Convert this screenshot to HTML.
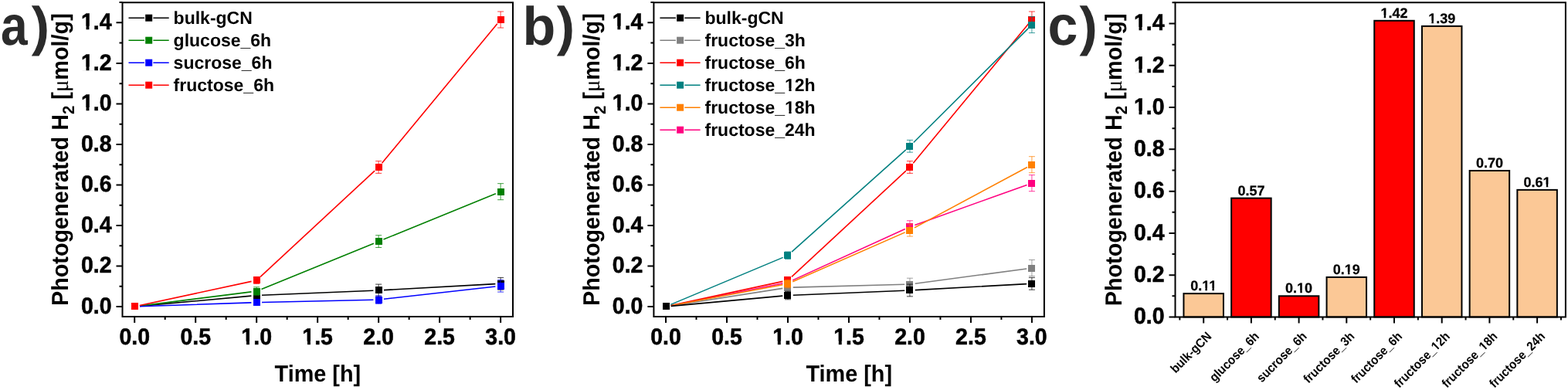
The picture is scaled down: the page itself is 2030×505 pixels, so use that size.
<!DOCTYPE html><html><head><meta charset="utf-8"><title>Figure</title><style>
html,body{margin:0;padding:0;background:#fff;}body{width:2030px;height:505px;overflow:hidden;}
svg{display:block;}
text{font-family:"Liberation Sans", Arial, Helvetica, sans-serif;font-weight:bold;fill:#000;text-rendering:geometricPrecision;}
.tl{font-size:28.5px;stroke:#000;stroke-width:0.55px;}.tt{font-size:28.8px;}.lg{font-size:23.0px;}
.sub{font-size:20.4px;}
.mu{font-family:"Liberation Serif","DejaVu Serif",serif;font-weight:normal;}
.pl{font-size:70px;fill:#2b2b2b;}
.bl{font-size:18px;stroke:#000;stroke-width:0.25px;}.cl{font-size:15.1px;}
</style></head><body>
<svg width="2030" height="505" viewBox="0 0 2030 505">
<rect width="2030" height="505" fill="#fff"/>
<g id="pa">
<path d="M180.97 396.38L325.4 383.16M338.96 382.26L483.35 376.25M496.93 375.59L641.32 367.66" stroke="#000000" stroke-width="1.6" fill="none"/>
<rect x="170" y="392" width="9" height="9" fill="#000000"/>
<path d="M332.17 377.28V387.8M328.17 377.28h8M328.17 387.8h8" stroke="#000000" stroke-width="1.0" stroke-opacity="0.75" fill="none"/>
<rect x="328" y="378" width="9" height="9" fill="#000000"/>
<path d="M490.14 368.08V383.85M486.14 368.08h8M486.14 383.85h8" stroke="#000000" stroke-width="1.0" stroke-opacity="0.75" fill="none"/>
<rect x="486" y="371" width="9" height="9" fill="#000000"/>
<path d="M648.11 359.4V375.18M644.11 359.4h8M644.11 375.18h8" stroke="#000000" stroke-width="1.0" stroke-opacity="0.75" fill="none"/>
<rect x="644" y="363" width="9" height="9" fill="#000000"/>
<path d="M180.95 396.15L325.42 377.87M338.47 374.45L483.84 315.17M496.44 310.03L641.81 250.75" stroke="#008000" stroke-width="1.6" fill="none"/>
<rect x="170" y="392" width="9" height="9" fill="#008000"/>
<path d="M332.17 371.76V382.28M328.17 371.76h8M328.17 382.28h8" stroke="#008000" stroke-width="1.0" stroke-opacity="0.75" fill="none"/>
<rect x="328" y="373" width="9" height="9" fill="#008000"/>
<path d="M490.14 304.71V320.49M486.14 304.71h8M486.14 320.49h8" stroke="#008000" stroke-width="1.0" stroke-opacity="0.75" fill="none"/>
<rect x="486" y="308" width="9" height="9" fill="#008000"/>
<path d="M648.11 237.66V258.7M644.11 237.66h8M644.11 258.7h8" stroke="#008000" stroke-width="1.0" stroke-opacity="0.75" fill="none"/>
<rect x="644" y="244" width="9" height="9" fill="#008000"/>
<path d="M181 396.77L325.37 391.84M338.97 391.46L483.34 388.21M496.9 387.3L641.35 370.95" stroke="#0000FF" stroke-width="1.6" fill="none"/>
<rect x="170" y="392" width="9" height="9" fill="#0000FF"/>
<path d="M332.17 388.98V394.24M328.17 388.98h8M328.17 394.24h8" stroke="#0000FF" stroke-width="1.0" stroke-opacity="0.75" fill="none"/>
<rect x="328" y="387" width="9" height="9" fill="#0000FF"/>
<path d="M490.14 382.8V393.32M486.14 382.8h8M486.14 393.32h8" stroke="#0000FF" stroke-width="1.0" stroke-opacity="0.75" fill="none"/>
<rect x="486" y="384" width="9" height="9" fill="#0000FF"/>
<path d="M648.11 362.29V378.07M644.11 362.29h8M644.11 378.07h8" stroke="#0000FF" stroke-width="1.0" stroke-opacity="0.75" fill="none"/>
<rect x="644" y="366" width="9" height="9" fill="#0000FF"/>
<path d="M180.85 395.57L325.52 364.38M337.16 358.33L485.15 221.12M494.47 211.26L643.78 30.72" stroke="#FF0000" stroke-width="1.6" fill="none"/>
<rect x="170" y="392" width="9" height="9" fill="#FF0000"/>
<path d="M332.17 358.48V367.42M328.17 358.48h8M328.17 367.42h8" stroke="#FF0000" stroke-width="1.0" stroke-opacity="0.75" fill="none"/>
<rect x="328" y="358" width="9" height="9" fill="#FF0000"/>
<path d="M490.14 208.61V224.39M486.14 208.61h8M486.14 224.39h8" stroke="#FF0000" stroke-width="1.0" stroke-opacity="0.75" fill="none"/>
<rect x="486" y="212" width="9" height="9" fill="#FF0000"/>
<path d="M648.11 14.96V36M644.11 14.96h8M644.11 36h8" stroke="#FF0000" stroke-width="1.0" stroke-opacity="0.75" fill="none"/>
<rect x="644" y="21" width="9" height="9" fill="#FF0000"/>
<path d="M158.5 3.3H664V410H158.5Z" fill="none" stroke="#000" stroke-width="2.0" stroke-linejoin="miter"/>
<path d="M150.5 397H158.5M150.5 344.48H158.5M150.5 291.96H158.5M150.5 239.44H158.5M150.5 186.92H158.5M150.5 134.4H158.5M150.5 81.88H158.5M150.5 29.36H158.5M154.5 370.74H158.5M154.5 318.22H158.5M154.5 265.7H158.5M154.5 213.18H158.5M154.5 160.66H158.5M154.5 108.14H158.5M154.5 55.62H158.5M154.5 3.1H158.5" stroke="#000" stroke-width="2.0" fill="none"/>
<text transform="translate(144.5 405.8) scale(1 1.045)" text-anchor="end" class="tl">0.0</text>
<text transform="translate(144.5 353.28) scale(1 1.045)" text-anchor="end" class="tl">0.2</text>
<text transform="translate(144.5 300.76) scale(1 1.045)" text-anchor="end" class="tl">0.4</text>
<text transform="translate(144.5 248.24) scale(1 1.045)" text-anchor="end" class="tl">0.6</text>
<text transform="translate(144.5 195.72) scale(1 1.045)" text-anchor="end" class="tl">0.8</text>
<text transform="translate(144.5 143.2) scale(1 1.045)" text-anchor="end" class="tl">1.0</text>
<path transform="translate(144.5 143.2) scale(1 1.045)" d="M-39.03 -4.11H-32.97V1H-39.03ZM-29.06 -4.11H-23.37V1H-29.06Z" fill="#fff"/>
<text transform="translate(144.5 90.68) scale(1 1.045)" text-anchor="end" class="tl">1.2</text>
<path transform="translate(144.5 90.68) scale(1 1.045)" d="M-39.03 -4.11H-32.97V1H-39.03ZM-29.06 -4.11H-23.37V1H-29.06Z" fill="#fff"/>
<text transform="translate(144.5 38.16) scale(1 1.045)" text-anchor="end" class="tl">1.4</text>
<path transform="translate(144.5 38.16) scale(1 1.045)" d="M-39.03 -4.11H-32.97V1H-39.03ZM-29.06 -4.11H-23.37V1H-29.06Z" fill="#fff"/>
<path d="M174.2 410V418M253.19 410V418M332.17 410V418M411.15 410V418M490.14 410V418M569.12 410V418M648.11 410V418M213.69 410V414M292.68 410V414M371.66 410V414M450.65 410V414M529.63 410V414M608.62 410V414" stroke="#000" stroke-width="2.0" fill="none"/>
<text transform="translate(174.2 446.1) scale(1 1.045)" text-anchor="middle" class="tl">0.0</text>
<text transform="translate(253.19 446.1) scale(1 1.045)" text-anchor="middle" class="tl">0.5</text>
<text transform="translate(332.17 446.1) scale(1 1.045)" text-anchor="middle" class="tl">1.0</text>
<path transform="translate(332.17 446.1) scale(1 1.045)" d="M-19.22 -4.11H-13.16V1H-19.22ZM-9.25 -4.11H-3.56V1H-9.25Z" fill="#fff"/>
<text transform="translate(411.15 446.1) scale(1 1.045)" text-anchor="middle" class="tl">1.5</text>
<path transform="translate(411.15 446.1) scale(1 1.045)" d="M-19.22 -4.11H-13.16V1H-19.22ZM-9.25 -4.11H-3.56V1H-9.25Z" fill="#fff"/>
<text transform="translate(490.14 446.1) scale(1 1.045)" text-anchor="middle" class="tl">2.0</text>
<text transform="translate(569.12 446.1) scale(1 1.045)" text-anchor="middle" class="tl">2.5</text>
<text transform="translate(648.11 446.1) scale(1 1.045)" text-anchor="middle" class="tl">3.0</text>
<text transform="translate(411.35 493.9) scale(1 1.045)" text-anchor="middle" class="tt">Time [h]</text>
<text transform="translate(88.2 206.65) rotate(-90) scale(1 1.045)" text-anchor="middle" class="tt">Photogenerated H<tspan class="sub" dy="7.1">2</tspan><tspan dy="-7.1"> [</tspan><tspan class="mu">&#956;</tspan>mol/g]</text>
<path d="M166.5 23.2H187M198.4 23.2H218.7" stroke="#000000" stroke-width="1.6"/>
<rect x="188.2" y="18.7" width="9" height="9" fill="#000000"/>
<text transform="translate(224.6 30.9)" class="lg">bulk-gCN</text>
<path d="M166.5 52.2H187M198.4 52.2H218.7" stroke="#008000" stroke-width="1.6"/>
<rect x="188.2" y="47.7" width="9" height="9" fill="#008000"/>
<text transform="translate(224.6 59.9)" class="lg">glucose_6h</text>
<path d="M166.5 81.2H187M198.4 81.2H218.7" stroke="#0000FF" stroke-width="1.6"/>
<rect x="188.2" y="76.7" width="9" height="9" fill="#0000FF"/>
<text transform="translate(224.6 88.9)" class="lg">sucrose_6h</text>
<path d="M166.5 110.2H187M198.4 110.2H218.7" stroke="#FF0000" stroke-width="1.6"/>
<rect x="188.2" y="105.7" width="9" height="9" fill="#FF0000"/>
<text transform="translate(224.6 117.9)" class="lg">fructose_6h</text>
</g>
<g id="pb">
<path d="M868.72 395.95L1013.25 373.34M1026.77 372.1L1171.14 368.26M1184.68 367.18L1329.17 347.94" stroke="#808080" stroke-width="1.6" fill="none"/>
<rect x="858" y="392" width="9" height="9" fill="#808080"/>
<path d="M1019.97 367.03V377.54M1015.97 367.03h8M1015.97 377.54h8" stroke="#808080" stroke-width="1.0" stroke-opacity="0.75" fill="none"/>
<rect x="1015" y="368" width="9" height="9" fill="#808080"/>
<path d="M1177.94 360.19V375.97M1173.94 360.19h8M1173.94 375.97h8" stroke="#808080" stroke-width="1.0" stroke-opacity="0.75" fill="none"/>
<rect x="1173" y="364" width="9" height="9" fill="#808080"/>
<path d="M1335.91 336.53V357.56M1331.91 336.53h8M1331.91 357.56h8" stroke="#808080" stroke-width="1.0" stroke-opacity="0.75" fill="none"/>
<rect x="1331" y="343" width="9" height="9" fill="#808080"/>
<path d="M868.67 395.68L1013.3 367.03M1026.16 362.89L1171.75 296.49M1184.34 291.38L1329.51 239.43" stroke="#FF0080" stroke-width="1.6" fill="none"/>
<rect x="858" y="392" width="9" height="9" fill="#FF0080"/>
<path d="M1019.97 360.45V370.97M1015.97 360.45h8M1015.97 370.97h8" stroke="#FF0080" stroke-width="1.0" stroke-opacity="0.75" fill="none"/>
<rect x="1015" y="361" width="9" height="9" fill="#FF0080"/>
<path d="M1177.94 285.78V301.56M1173.94 285.78h8M1173.94 301.56h8" stroke="#FF0080" stroke-width="1.0" stroke-opacity="0.75" fill="none"/>
<rect x="1173" y="289" width="9" height="9" fill="#FF0080"/>
<path d="M1335.91 226.62V247.66M1331.91 226.62h8M1331.91 247.66h8" stroke="#FF0080" stroke-width="1.0" stroke-opacity="0.75" fill="none"/>
<rect x="1331" y="233" width="9" height="9" fill="#FF0080"/>
<path d="M868.65 395.57L1013.32 364.38M1024.96 358.33L1172.95 221.12M1182.27 211.26L1331.58 30.72" stroke="#FF0000" stroke-width="1.6" fill="none"/>
<rect x="858" y="392" width="9" height="9" fill="#FF0000"/>
<path d="M1019.97 358.48V367.42M1015.97 358.48h8M1015.97 367.42h8" stroke="#FF0000" stroke-width="1.0" stroke-opacity="0.75" fill="none"/>
<rect x="1015" y="358" width="9" height="9" fill="#FF0000"/>
<path d="M1177.94 208.61V224.39M1173.94 208.61h8M1173.94 224.39h8" stroke="#FF0000" stroke-width="1.0" stroke-opacity="0.75" fill="none"/>
<rect x="1173" y="212" width="9" height="9" fill="#FF0000"/>
<path d="M1335.91 14.96V36M1331.91 14.96h8M1331.91 36h8" stroke="#FF0000" stroke-width="1.0" stroke-opacity="0.75" fill="none"/>
<rect x="1331" y="21" width="9" height="9" fill="#FF0000"/>
<path d="M868.68 395.75L1013.29 368.8M1026.2 364.82L1171.71 300.87M1183.93 294.92L1329.92 216.43" stroke="#FF8000" stroke-width="1.6" fill="none"/>
<rect x="858" y="392" width="9" height="9" fill="#FF8000"/>
<path d="M1019.97 362.29V372.81M1015.97 362.29h8M1015.97 372.81h8" stroke="#FF8000" stroke-width="1.0" stroke-opacity="0.75" fill="none"/>
<rect x="1015" y="363" width="9" height="9" fill="#FF8000"/>
<path d="M1177.94 290.25V306.03M1173.94 290.25h8M1173.94 306.03h8" stroke="#FF8000" stroke-width="1.0" stroke-opacity="0.75" fill="none"/>
<rect x="1173" y="294" width="9" height="9" fill="#FF8000"/>
<path d="M1335.91 202.69V223.73M1331.91 202.69h8M1331.91 223.73h8" stroke="#FF8000" stroke-width="1.0" stroke-opacity="0.75" fill="none"/>
<rect x="1331" y="209" width="9" height="9" fill="#FF8000"/>
<path d="M868.27 394.37L1013.7 333.37M1025.04 326.21L1172.87 193.82M1182.76 184.49L1331.09 36.85" stroke="#008080" stroke-width="1.6" fill="none"/>
<rect x="858" y="392" width="9" height="9" fill="#008080"/>
<path d="M1019.97 326.01V335.47M1015.97 326.01h8M1015.97 335.47h8" stroke="#008080" stroke-width="1.0" stroke-opacity="0.75" fill="none"/>
<rect x="1015" y="326" width="9" height="9" fill="#008080"/>
<path d="M1177.94 181.4V197.17M1173.94 181.4h8M1173.94 197.17h8" stroke="#008080" stroke-width="1.0" stroke-opacity="0.75" fill="none"/>
<rect x="1173" y="185" width="9" height="9" fill="#008080"/>
<path d="M1335.91 21.54V42.57M1331.91 21.54h8M1331.91 42.57h8" stroke="#008080" stroke-width="1.0" stroke-opacity="0.75" fill="none"/>
<rect x="1331" y="28" width="9" height="9" fill="#008080"/>
<path d="M868.77 396.38L1013.2 383.16M1026.76 382.26L1171.15 376.25M1184.73 375.59L1329.12 367.66" stroke="#000000" stroke-width="1.6" fill="none"/>
<rect x="858" y="392" width="9" height="9" fill="#000000"/>
<path d="M1019.97 377.28V387.8M1015.97 377.28h8M1015.97 387.8h8" stroke="#000000" stroke-width="1.0" stroke-opacity="0.75" fill="none"/>
<rect x="1015" y="378" width="9" height="9" fill="#000000"/>
<path d="M1177.94 368.08V383.85M1173.94 368.08h8M1173.94 383.85h8" stroke="#000000" stroke-width="1.0" stroke-opacity="0.75" fill="none"/>
<rect x="1173" y="371" width="9" height="9" fill="#000000"/>
<path d="M1335.91 359.4V375.18M1331.91 359.4h8M1331.91 375.18h8" stroke="#000000" stroke-width="1.0" stroke-opacity="0.75" fill="none"/>
<rect x="1331" y="363" width="9" height="9" fill="#000000"/>
<path d="M846.4 3.3H1351.9V410H846.4Z" fill="none" stroke="#000" stroke-width="2.0" stroke-linejoin="miter"/>
<path d="M838.4 397H846.4M838.4 344.48H846.4M838.4 291.96H846.4M838.4 239.44H846.4M838.4 186.92H846.4M838.4 134.4H846.4M838.4 81.88H846.4M838.4 29.36H846.4M842.4 370.74H846.4M842.4 318.22H846.4M842.4 265.7H846.4M842.4 213.18H846.4M842.4 160.66H846.4M842.4 108.14H846.4M842.4 55.62H846.4M842.4 3.1H846.4" stroke="#000" stroke-width="2.0" fill="none"/>
<text transform="translate(832.4 405.8) scale(1 1.045)" text-anchor="end" class="tl">0.0</text>
<text transform="translate(832.4 353.28) scale(1 1.045)" text-anchor="end" class="tl">0.2</text>
<text transform="translate(832.4 300.76) scale(1 1.045)" text-anchor="end" class="tl">0.4</text>
<text transform="translate(832.4 248.24) scale(1 1.045)" text-anchor="end" class="tl">0.6</text>
<text transform="translate(832.4 195.72) scale(1 1.045)" text-anchor="end" class="tl">0.8</text>
<text transform="translate(832.4 143.2) scale(1 1.045)" text-anchor="end" class="tl">1.0</text>
<path transform="translate(832.4 143.2) scale(1 1.045)" d="M-39.03 -4.11H-32.97V1H-39.03ZM-29.06 -4.11H-23.37V1H-29.06Z" fill="#fff"/>
<text transform="translate(832.4 90.68) scale(1 1.045)" text-anchor="end" class="tl">1.2</text>
<path transform="translate(832.4 90.68) scale(1 1.045)" d="M-39.03 -4.11H-32.97V1H-39.03ZM-29.06 -4.11H-23.37V1H-29.06Z" fill="#fff"/>
<text transform="translate(832.4 38.16) scale(1 1.045)" text-anchor="end" class="tl">1.4</text>
<path transform="translate(832.4 38.16) scale(1 1.045)" d="M-39.03 -4.11H-32.97V1H-39.03ZM-29.06 -4.11H-23.37V1H-29.06Z" fill="#fff"/>
<path d="M862 410V418M940.99 410V418M1019.97 410V418M1098.95 410V418M1177.94 410V418M1256.92 410V418M1335.91 410V418M901.49 410V414M980.48 410V414M1059.46 410V414M1138.45 410V414M1217.43 410V414M1296.42 410V414" stroke="#000" stroke-width="2.0" fill="none"/>
<text transform="translate(862 446.1) scale(1 1.045)" text-anchor="middle" class="tl">0.0</text>
<text transform="translate(940.99 446.1) scale(1 1.045)" text-anchor="middle" class="tl">0.5</text>
<text transform="translate(1019.97 446.1) scale(1 1.045)" text-anchor="middle" class="tl">1.0</text>
<path transform="translate(1019.97 446.1) scale(1 1.045)" d="M-19.22 -4.11H-13.16V1H-19.22ZM-9.25 -4.11H-3.56V1H-9.25Z" fill="#fff"/>
<text transform="translate(1098.95 446.1) scale(1 1.045)" text-anchor="middle" class="tl">1.5</text>
<path transform="translate(1098.95 446.1) scale(1 1.045)" d="M-19.22 -4.11H-13.16V1H-19.22ZM-9.25 -4.11H-3.56V1H-9.25Z" fill="#fff"/>
<text transform="translate(1177.94 446.1) scale(1 1.045)" text-anchor="middle" class="tl">2.0</text>
<text transform="translate(1256.92 446.1) scale(1 1.045)" text-anchor="middle" class="tl">2.5</text>
<text transform="translate(1335.91 446.1) scale(1 1.045)" text-anchor="middle" class="tl">3.0</text>
<text transform="translate(1099.25 493.9) scale(1 1.045)" text-anchor="middle" class="tt">Time [h]</text>
<text transform="translate(776.1 206.65) rotate(-90) scale(1 1.045)" text-anchor="middle" class="tt">Photogenerated H<tspan class="sub" dy="7.1">2</tspan><tspan dy="-7.1"> [</tspan><tspan class="mu">&#956;</tspan>mol/g]</text>
<path d="M854.4 23.2H874.9M886.3 23.2H906.6" stroke="#000000" stroke-width="1.6"/>
<rect x="876.1" y="18.7" width="9" height="9" fill="#000000"/>
<text transform="translate(912.5 30.9)" class="lg">bulk-gCN</text>
<path d="M854.4 52.2H874.9M886.3 52.2H906.6" stroke="#808080" stroke-width="1.6"/>
<rect x="876.1" y="47.7" width="9" height="9" fill="#808080"/>
<text transform="translate(912.5 59.9)" class="lg">fructose_3h</text>
<path d="M854.4 81.2H874.9M886.3 81.2H906.6" stroke="#FF0000" stroke-width="1.6"/>
<rect x="876.1" y="76.7" width="9" height="9" fill="#FF0000"/>
<text transform="translate(912.5 88.9)" class="lg">fructose_6h</text>
<path d="M854.4 110.2H874.9M886.3 110.2H906.6" stroke="#008080" stroke-width="1.6"/>
<rect x="876.1" y="105.7" width="9" height="9" fill="#008080"/>
<text transform="translate(912.5 117.9)" class="lg">fructose_12h</text>
<path transform="translate(912.5 117.9)" d="M103.78 -3.55H108.9V1H103.78ZM112.06 -3.55H116.88V1H112.06Z" fill="#fff"/>
<path d="M854.4 139.2H874.9M886.3 139.2H906.6" stroke="#FF8000" stroke-width="1.6"/>
<rect x="876.1" y="134.7" width="9" height="9" fill="#FF8000"/>
<text transform="translate(912.5 146.9)" class="lg">fructose_18h</text>
<path transform="translate(912.5 146.9)" d="M103.78 -3.55H108.9V1H103.78ZM112.06 -3.55H116.88V1H112.06Z" fill="#fff"/>
<path d="M854.4 168.2H874.9M886.3 168.2H906.6" stroke="#FF0080" stroke-width="1.6"/>
<rect x="876.1" y="163.7" width="9" height="9" fill="#FF0080"/>
<text transform="translate(912.5 175.9)" class="lg">fructose_24h</text>
</g>
<g id="pc">
<rect x="1532.45" y="380.13" width="51.5" height="30.37" fill="#FBC896" stroke="#000" stroke-width="2.0"/>
<text transform="translate(1558.2 376.13)" text-anchor="middle" class="bl">0.11</text>
<path transform="translate(1558.2 376.13)" d="M-2.09 -3.04H2.18V1H-2.09ZM4.65 -3.04H8.69V1H4.65ZM6.93 -3.04H11.19V1H6.93ZM13.66 -3.04H17.7V1H13.66Z" fill="#fff"/>
<rect x="1594.15" y="256.6" width="51.5" height="153.9" fill="#FF0000" stroke="#000" stroke-width="2.0"/>
<text transform="translate(1619.9 252.6)" text-anchor="middle" class="bl">0.57</text>
<rect x="1655.85" y="383.31" width="51.5" height="27.19" fill="#FF0000" stroke="#000" stroke-width="2.0"/>
<text transform="translate(1681.6 379.31)" text-anchor="middle" class="bl">0.10</text>
<path transform="translate(1681.6 379.31)" d="M-2.59 -3.04H1.68V1H-2.59ZM4.15 -3.04H8.19V1H4.15Z" fill="#fff"/>
<rect x="1717.55" y="358.93" width="51.5" height="51.57" fill="#FBC896" stroke="#000" stroke-width="2.0"/>
<text transform="translate(1743.3 354.93)" text-anchor="middle" class="bl">0.19</text>
<path transform="translate(1743.3 354.93)" d="M-2.59 -3.04H1.68V1H-2.59ZM4.15 -3.04H8.19V1H4.15Z" fill="#fff"/>
<rect x="1779.25" y="26.79" width="51.5" height="383.71" fill="#FF0000" stroke="#000" stroke-width="2.0"/>
<text transform="translate(1805 22.79)" text-anchor="middle" class="bl">1.42</text>
<path transform="translate(1805 22.79)" d="M-17.59 -3.04H-13.32V1H-17.59ZM-10.85 -3.04H-6.81V1H-10.85Z" fill="#fff"/>
<rect x="1840.95" y="33.86" width="51.5" height="376.64" fill="#FBC896" stroke="#000" stroke-width="2.0"/>
<text transform="translate(1866.7 29.86)" text-anchor="middle" class="bl">1.39</text>
<path transform="translate(1866.7 29.86)" d="M-17.59 -3.04H-13.32V1H-17.59ZM-10.85 -3.04H-6.81V1H-10.85Z" fill="#fff"/>
<rect x="1902.65" y="220.99" width="51.5" height="189.51" fill="#FBC896" stroke="#000" stroke-width="2.0"/>
<text transform="translate(1928.4 216.99)" text-anchor="middle" class="bl">0.70</text>
<rect x="1964.35" y="245.86" width="51.5" height="164.64" fill="#FBC896" stroke="#000" stroke-width="2.0"/>
<text transform="translate(1990.1 241.86)" text-anchor="middle" class="bl">0.61</text>
<path transform="translate(1990.1 241.86)" d="M7.43 -3.04H11.69V1H7.43ZM14.16 -3.04H18.2V1H14.16Z" fill="#fff"/>
<path d="M1521.5 3.3H2026.9V410.5H1521.5Z" fill="none" stroke="#000" stroke-width="2.0" stroke-linejoin="miter"/>
<path d="M1513.5 410.5H1521.5M1513.5 356.21H1521.5M1513.5 301.93H1521.5M1513.5 247.64H1521.5M1513.5 193.36H1521.5M1513.5 139.07H1521.5M1513.5 84.78H1521.5M1513.5 30.5H1521.5M1517.5 383.36H1521.5M1517.5 329.07H1521.5M1517.5 274.78H1521.5M1517.5 220.5H1521.5M1517.5 166.21H1521.5M1517.5 111.93H1521.5M1517.5 57.64H1521.5M1517.5 3.35H1521.5" stroke="#000" stroke-width="2.0" fill="none"/>
<text transform="translate(1507.5 419.3) scale(1 1.045)" text-anchor="end" class="tl">0.0</text>
<text transform="translate(1507.5 365.01) scale(1 1.045)" text-anchor="end" class="tl">0.2</text>
<text transform="translate(1507.5 310.73) scale(1 1.045)" text-anchor="end" class="tl">0.4</text>
<text transform="translate(1507.5 256.44) scale(1 1.045)" text-anchor="end" class="tl">0.6</text>
<text transform="translate(1507.5 202.16) scale(1 1.045)" text-anchor="end" class="tl">0.8</text>
<text transform="translate(1507.5 147.87) scale(1 1.045)" text-anchor="end" class="tl">1.0</text>
<path transform="translate(1507.5 147.87) scale(1 1.045)" d="M-39.03 -4.11H-32.97V1H-39.03ZM-29.06 -4.11H-23.37V1H-29.06Z" fill="#fff"/>
<text transform="translate(1507.5 93.58) scale(1 1.045)" text-anchor="end" class="tl">1.2</text>
<path transform="translate(1507.5 93.58) scale(1 1.045)" d="M-39.03 -4.11H-32.97V1H-39.03ZM-29.06 -4.11H-23.37V1H-29.06Z" fill="#fff"/>
<text transform="translate(1507.5 39.3) scale(1 1.045)" text-anchor="end" class="tl">1.4</text>
<path transform="translate(1507.5 39.3) scale(1 1.045)" d="M-39.03 -4.11H-32.97V1H-39.03ZM-29.06 -4.11H-23.37V1H-29.06Z" fill="#fff"/>
<path d="M1558.2 410.5V418.5M1619.9 410.5V418.5M1681.6 410.5V418.5M1743.3 410.5V418.5M1805 410.5V418.5M1866.7 410.5V418.5M1928.4 410.5V418.5M1990.1 410.5V418.5M1527.35 410.5V414.5M1589.05 410.5V414.5M1650.75 410.5V414.5M1712.45 410.5V414.5M1774.15 410.5V414.5M1835.85 410.5V414.5M1897.55 410.5V414.5M1959.25 410.5V414.5M2020.95 410.5V414.5" stroke="#000" stroke-width="2.0" fill="none"/>
<text transform="translate(1569.4 436.6) rotate(-45) scale(1 1.08)" text-anchor="end" class="cl">bulk-gCN</text>
<text transform="translate(1631.1 436.6) rotate(-45) scale(1 1.08)" text-anchor="end" class="cl">glucose_6h</text>
<text transform="translate(1692.8 436.6) rotate(-45) scale(1 1.08)" text-anchor="end" class="cl">sucrose_6h</text>
<text transform="translate(1754.5 436.6) rotate(-45) scale(1 1.08)" text-anchor="end" class="cl">fructose_3h</text>
<text transform="translate(1816.2 436.6) rotate(-45) scale(1 1.08)" text-anchor="end" class="cl">fructose_6h</text>
<text transform="translate(1877.9 436.6) rotate(-45) scale(1 1.08)" text-anchor="end" class="cl">fructose_12h</text>
<path transform="translate(1877.9 436.6) rotate(-45) scale(1 1.08)" d="M-26.26 -2.74H-22.49V1H-26.26ZM-20.42 -2.74H-16.84V1H-20.42Z" fill="#fff"/>
<text transform="translate(1939.6 436.6) rotate(-45) scale(1 1.08)" text-anchor="end" class="cl">fructose_18h</text>
<path transform="translate(1939.6 436.6) rotate(-45) scale(1 1.08)" d="M-26.26 -2.74H-22.49V1H-26.26ZM-20.42 -2.74H-16.84V1H-20.42Z" fill="#fff"/>
<text transform="translate(2001.3 436.6) rotate(-45) scale(1 1.08)" text-anchor="end" class="cl">fructose_24h</text>
<text transform="translate(1451.5 206.9) rotate(-90) scale(1 1.045)" text-anchor="middle" class="tt">Photogenerated H<tspan class="sub" dy="7.1">2</tspan><tspan dy="-7.1"> [</tspan><tspan class="mu">&#956;</tspan>mol/g]</text>
</g>
<text transform="translate(0.95 57.6) scale(0.89 1.035)" class="pl">a</text>
<text transform="translate(40.8 57.6) scale(1.0 1.0)" class="pl">)</text>
<text transform="translate(676.5 57.6) scale(1.0 1.0)" class="pl">b</text>
<text transform="translate(720.67 57.6) scale(1.0 1.0)" class="pl">)</text>
<text transform="translate(1356.4 57.6) scale(1.0 1.035)" class="pl">c</text>
<text transform="translate(1397.52 57.6) scale(1.0 1.0)" class="pl">)</text>
</svg></body></html>
